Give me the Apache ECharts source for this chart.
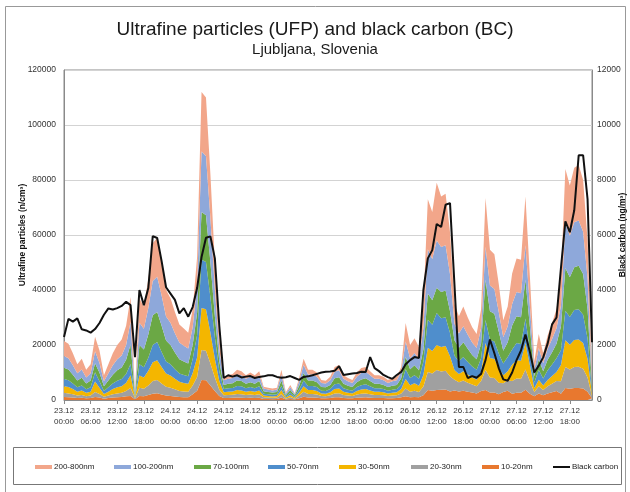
<!DOCTYPE html>
<html>
<head>
<meta charset="utf-8">
<script src="https://cdn.jsdelivr.net/npm/echarts/dist/echarts.min.js"></script>
<style>
  html, body { margin: 0; padding: 0; background: #fff; }
  #chart { width: 630px; height: 492px; }
</style>
</head>
<body>
<div id="chart"></div>
<script>
// x axis: hourly from 23.12 00:00 to 27.12 23:00
const days = ['23.12', '24.12', '25.12', '26.12', '27.12'];
const seriesNames = ['10-20nm', '20-30nm', '30-50nm', '50-70nm', '70-100nm', '100-200nm', '200-800nm'];
const seriesColors = ['#E8782F', '#A0A0A0', '#F4B600', '#4F8ECC', '#6BA845', '#8EA8DA', '#F2A68A'];
const legendOrder = ['200-800nm', '100-200nm', '70-100nm', '50-70nm', '30-50nm', '20-30nm', '10-20nm', 'Black carbon'];

// particle number concentrations, n/cm3
const nm10_20 = [1100, 1000, 900, 700, 800, 600, 700, 1100, 900, 500, 700, 900, 1000, 1100, 1400,
  1500, 300, 1500, 1400, 1800, 2300, 2500, 2000, 1600, 1500, 1300, 1100, 1000, 1000, 2100, 3400, 7300, 7200, 5300, 3300, 1500,
  700, 700, 800, 900, 800, 700, 800, 700, 800, 400, 400, 300, 400, 900, 200, 400, 200, 600, 1200, 900, 900, 800, 600, 600, 700, 1000, 1000, 700, 600, 600, 800, 900, 1000, 800, 700, 700, 700, 600, 600, 700, 1000, 1400, 1000, 1100, 1000,
  1700, 3600, 3400, 3600, 3700, 3800, 3100, 3500, 3100, 3400, 3000, 2700, 2400, 3300, 3600, 2700, 2700, 2100, 2900, 3400, 2300, 2600, 2600, 3700, 2300, 1400, 2400, 1700, 2400, 2800, 3300, 2300, 4400, 4100, 4400, 4400, 4200, 3000, 600];
const nm20_30 = [1500, 1400, 1200, 900, 1000, 800, 900, 1800, 1300, 700, 900, 1200, 1400, 1500, 1900,
  3000, 400, 3000, 2700, 3500, 4600, 4800, 4000, 3200, 3000, 2600, 2200, 2100, 2000, 3200, 5000, 10900, 10700, 8000, 4900, 2200,
  1000, 1100, 1100, 1300, 1300, 1100, 1200, 1100, 1300, 600, 500, 500, 500, 1300, 300, 700, 300, 1000, 1800, 1300, 1300, 1200, 900, 800, 1000, 1400, 1500, 1100, 1000, 900, 1200, 1400, 1400, 1300, 1100, 1100, 1000, 900, 1000, 1000, 1400, 2800, 2000, 2300, 1900,
  3200, 6600, 6200, 7300, 6700, 6800, 5500, 3900, 3400, 3700, 3300, 2900, 2600, 3600, 7300, 5500, 5300, 4200, 3200, 3700, 4600, 5200, 5100, 7400, 4500, 1500, 2600, 1900, 2600, 3100, 3600, 4500, 7600, 7000, 7600, 7700, 7200, 5200, 800];
const nm30_50 = [2400, 2300, 1900, 1400, 1700, 1200, 1400, 3800, 2300, 1000, 1400, 1900, 2200, 2400, 3000,
  4500, 400, 4400, 4100, 5300, 6800, 7200, 6000, 4800, 4400, 3800, 3300, 3100, 2900, 4500, 7100, 15300, 15100, 11200, 6800, 3200,
  1100, 1200, 1200, 1400, 1400, 1200, 1300, 1200, 1400, 600, 600, 500, 600, 1400, 400, 700, 300, 1000, 2000, 1400, 1400, 1300, 900, 900, 1100, 1600, 1700, 1200, 1000, 900, 1300, 1500, 1600, 1400, 1200, 1200, 1100, 900, 1000, 1100, 1600, 3400, 2400, 2700, 2300,
  4200, 8800, 8200, 9100, 8900, 9000, 7300, 3500, 3000, 3400, 3000, 2600, 2400, 3300, 9800, 7100, 6900, 5500, 2900, 3400, 6000, 6700, 6600, 9600, 5900, 1400, 2400, 1700, 2300, 2800, 3300, 5900, 9700, 9000, 9800, 9900, 9300, 6700, 900];
const nm50_70 = [2600, 2500, 2000, 1600, 1800, 1300, 1600, 3400, 2300, 1100, 1600, 2000, 2400, 2600, 3200,
  4100, 400, 4100, 3700, 4800, 6300, 6600, 5500, 4400, 4100, 3500, 3000, 2900, 2700, 5100, 8100, 17500, 17200, 12800, 7800, 3600,
  1200, 1300, 1300, 1500, 1500, 1300, 1400, 1300, 1500, 700, 600, 600, 600, 1500, 400, 800, 400, 1100, 2100, 1500, 1500, 1400, 1000, 1000, 1200, 1700, 1800, 1300, 1100, 1000, 1400, 1600, 1700, 1500, 1300, 1300, 1200, 1000, 1100, 1200, 1700, 3600, 2600, 2900, 2500,
  4900, 10200, 9600, 11600, 10400, 10500, 8500, 5200, 4600, 5100, 4500, 4000, 3600, 5000, 8400, 6600, 6400, 5000, 4300, 5100, 5500, 6200, 6100, 8900, 5400, 2100, 3600, 2500, 3500, 4200, 5000, 5400, 10800, 10100, 10900, 11000, 10300, 7500, 1000];
const nm70_100 = [4100, 3900, 3200, 2500, 2800, 2100, 2500, 3300, 3100, 1700, 2500, 3200, 3800, 4200, 5100,
  7100, 500, 7000, 6500, 8400, 10800, 10900, 9500, 7600, 7000, 6100, 5200, 4900, 4700, 5100, 8100, 17400, 17000, 12700, 7700, 3600,
  1500, 1600, 1700, 2000, 1900, 1600, 1800, 1600, 1900, 900, 800, 800, 800, 2000, 500, 1000, 500, 1500, 2700, 2000, 2000, 1800, 1300, 1300, 1500, 2200, 2300, 1600, 1500, 1300, 1800, 2100, 2200, 1900, 1600, 1600, 1500, 1300, 1500, 1500, 2200, 4500, 3200, 3600, 3100,
  4500, 9500, 8900, 9200, 9600, 9700, 7900, 5600, 4900, 5400, 4800, 4200, 3800, 5300, 14600, 10400, 10100, 8000, 4600, 5400, 8700, 9800, 9700, 14100, 8600, 2200, 3800, 2700, 3800, 4500, 5300, 8600, 15500, 14400, 15600, 15800, 14800, 10700, 1500];
const nm100_200 = [4300, 4100, 3400, 2600, 3000, 2200, 2600, 4300, 3600, 1800, 2600, 3400, 4000, 4400, 5400,
  8300, 500, 8100, 7500, 9700, 12500, 12800, 11000, 8800, 8100, 7000, 6100, 5700, 5400, 6500, 10200, 22000, 21500, 16100, 9800, 4500,
  1700, 1800, 1900, 2200, 2100, 1800, 2000, 1800, 2100, 1000, 900, 800, 900, 2200, 600, 1100, 500, 1600, 3000, 2200, 2200, 2000, 1500, 1400, 1700, 2400, 2500, 1800, 1600, 1500, 2000, 2300, 2400, 2100, 1800, 1800, 1700, 1500, 1600, 1700, 2400, 5600, 4000, 4500, 3900,
  7700, 16100, 15000, 17200, 16300, 16500, 13400, 6000, 5200, 5800, 5100, 4500, 4100, 5600, 12000, 9300, 9000, 7100, 4900, 5800, 7800, 8800, 8700, 12600, 7600, 2400, 4100, 2900, 4000, 4800, 5600, 7600, 16200, 15100, 16300, 16500, 15400, 11200, 1500];
const nm200_800 = [5500, 5300, 4400, 3300, 3900, 2800, 3300, 5300, 4500, 2200, 3300, 4400, 5200, 5800, 7000,
  9000, 500, 8900, 8100, 10500, 13700, 14200, 12000, 9600, 8900, 7700, 6600, 6300, 5800, 6500, 10100, 21600, 21300, 15900, 9700, 4400,
  1300, 1300, 1500, 1700, 1500, 1300, 1500, 1300, 1500, 600, 700, 700, 700, 1700, 400, 800, 300, 1200, 2200, 1700, 1700, 1500, 1100, 1000, 1300, 1700, 1900, 1300, 1200, 1100, 1500, 1800, 1700, 1500, 1300, 1300, 1300, 1100, 1200, 1300, 1700, 6700, 4800, 5400, 4600,
  8800, 18200, 17100, 21000, 18400, 18700, 15300, 7300, 6300, 7200, 6300, 5600, 5100, 6900, 17800, 13000, 12600, 10100, 6200, 7200, 11100, 12200, 12200, 17700, 10700, 3000, 5100, 3600, 4900, 5800, 6900, 10700, 19800, 18300, 19900, 20200, 18800, 13700, 1700];

// black carbon, ng/m3
const blackCarbon = [2290, 2950, 2850, 2970, 2570, 2530, 2450, 2580, 2800, 3100, 3330, 3290, 3340, 3420, 3570, 3450, 1560, 4000, 3450, 4070, 5960, 5890, 5050, 4100, 3870, 3640, 3150, 3340, 3030, 3380, 4070, 5200, 5900, 5950, 5150, 2700,
  800, 900, 850, 900, 820, 850, 870, 800, 840, 860, 900, 900, 840, 810, 830, 870, 800, 730, 840, 860, 900, 950, 1000, 1030, 1040, 1060, 1230, 910, 940, 960, 980, 1030, 1020, 1560, 1160, 1050, 910, 830, 770, 910, 1020, 1300, 1450, 1560, 1530,
  4000, 5150, 5450, 6400, 6290, 7100, 7160, 4200, 1200, 1200, 800, 870, 810, 950, 1450, 2200, 1700, 1150, 750, 700, 1000, 1450, 1800, 2380, 1750, 1000, 1250, 1550, 2050, 2750, 3000, 4800, 6500, 6100, 6900, 8900, 8900, 7300, 2100];

const ufpSeries = [nm10_20, nm20_30, nm30_50, nm50_70, nm70_100, nm100_200, nm200_800];

// category labels "dd.mm\nhh:00"
let times = [];
days.forEach(function (d) {
  for (let h = 0; h < 24; h++) {
    times.push(d + '\n' + (h < 10 ? '0' + h : h) + ':00');
  }
});

const font = "'Liberation Sans', Arial, sans-serif";
// left edge of each legend entry
const legendX = [30, 109, 189, 263, 334, 406, 477, 548];

let myChart = echarts.init(document.getElementById('chart'));

let series = ufpSeries.map(function (arr, i) {
  return {
    name: seriesNames[i],
    type: 'line',
    stack: 'ufp',
    yAxisIndex: 0,
    data: arr,
    showSymbol: false,
    symbol: 'none',
    lineStyle: { width: 0 },
    itemStyle: { color: seriesColors[i] },
    areaStyle: { color: seriesColors[i], opacity: 1 },
    z: 2
  };
});
series.push({
  name: 'Black carbon',
  type: 'line',
  yAxisIndex: 1,
  data: blackCarbon,
  showSymbol: false,
  symbol: 'none',
  lineStyle: { color: '#111', width: 2 },
  itemStyle: { color: '#111' },
  z: 5
});

// one legend per entry so each sits where the original has it
let legends = legendOrder.map(function (name, i) {
  let isLine = name === 'Black carbon';
  return {
    left: legendX[i],
    top: 458,
    itemWidth: 17,
    itemHeight: isLine ? 2 : 4,
    itemGap: 0,
    icon: 'rect',
    selectedMode: false,
    textStyle: { fontFamily: font, fontSize: 8, color: '#222', padding: [0, 0, 0, -3] },
    data: [name]
  };
});

let option = {
  animation: false,
  backgroundColor: '#fff',
  title: {
    text: 'Ultrafine particles (UFP) and black carbon (BC)',
    subtext: 'Ljubljana, Slovenia',
    left: 'center',
    top: 15,
    itemGap: 3,
    textStyle: { fontFamily: font, fontSize: 19, fontWeight: 'normal', color: '#1a1a1a' },
    subtextStyle: { fontFamily: font, fontSize: 15, color: '#1a1a1a' }
  },
  graphic: [
    { type: 'rect', shape: { x: 5.5, y: 6.5, width: 620, height: 500 }, style: { fill: 'none', stroke: '#999', lineWidth: 1 }, silent: true },
    { type: 'rect', shape: { x: 13.5, y: 447.5, width: 608, height: 37 }, style: { fill: 'none', stroke: '#777', lineWidth: 1 }, silent: true }
  ],
  legend: legends,
  grid: {
    left: 64,
    right: 38,
    top: 70,
    bottom: 92,
    containLabel: false,
    outerBoundsMode: 'none',
    show: true,
    borderColor: '#8a8a8a',
    borderWidth: 1
  },
  xAxis: {
    type: 'category',
    boundaryGap: false,
    data: times,
    axisLine: { lineStyle: { color: '#8a8a8a' } },
    axisTick: { interval: 5, length: 4, lineStyle: { color: '#8a8a8a' } },
    axisLabel: {
      interval: 5,
      fontFamily: font,
      fontSize: 8,
      color: '#333',
      lineHeight: 11,
      margin: 5
    },
    splitLine: { show: false }
  },
  yAxis: [
    {
      type: 'value',
      min: 0,
      max: 120000,
      interval: 20000,
      name: 'Ultrafine particles (n/cm³)',
      nameLocation: 'middle',
      nameGap: 37,
      nameMoveOverlap: false,
      nameTextStyle: { fontFamily: font, fontSize: 8.5, fontWeight: 'bold', color: '#111' },
      axisLine: { show: true, lineStyle: { color: '#8a8a8a' } },
      axisTick: { show: false },
      axisLabel: { fontFamily: font, fontSize: 8.5, color: '#333', margin: 8, formatter: function (v) { return String(v); } },
      splitLine: { lineStyle: { color: '#d3d3d3' } }
    },
    {
      type: 'value',
      min: 0,
      max: 12000,
      interval: 2000,
      name: 'Black carbon (ng/m³)',
      nameLocation: 'middle',
      nameGap: 26,
      nameMoveOverlap: false,
      nameTextStyle: { fontFamily: font, fontSize: 8.5, fontWeight: 'bold', color: '#111' },
      axisLine: { show: true, lineStyle: { color: '#8a8a8a' } },
      axisTick: { show: false },
      axisLabel: { fontFamily: font, fontSize: 8.5, color: '#333', margin: 5, formatter: function (v) { return String(v); } },
      splitLine: { show: false }
    }
  ],
  series: series
};

myChart.setOption(option);
</script>
</body>
</html>
